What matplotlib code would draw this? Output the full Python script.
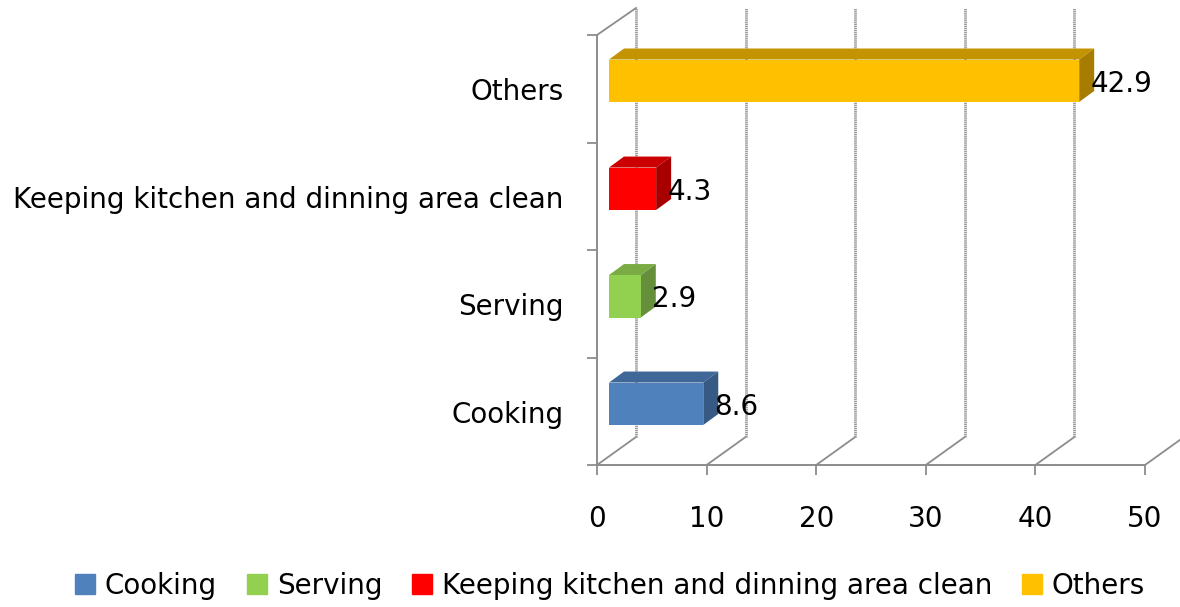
import matplotlib
matplotlib.use("Agg")
import matplotlib.pyplot as plt
from matplotlib.patches import Patch

categories = ["Cooking", "Serving", "Keeping kitchen and dinning area clean", "Others"]
values = [8.6, 2.9, 4.3, 42.9]
labels = ["8.6", "2.9", "4.3", "42.9"]
xticks = [0, 10, 20, 30, 40, 50]
front = ["#4F81BD", "#92D050", "#FF0000", "#FFC000"]
top = ["#3F6797", "#7AAB45", "#CC0000", "#C49400"]
side = ["#375A85", "#658F3A", "#A80000", "#A67D00"]

W, H = 1180, 607
plt.rcParams['font.family'] = ['DejaVu Sans']
FS = 20
fig = plt.figure(figsize=(W / 100, H / 100), dpi=100)
x0, x1, y_bot, y_top = 597, 1145, 465, 35
ax = fig.add_axes([x0 / W, 1 - y_bot / H, (x1 - x0) / W, (y_bot - y_top) / H])
ax.set_xlim(0, 50)
ax.set_ylim(0, 4)
ux = (x1 - x0) / 50   # pixels per x unit
uy = (y_bot - y_top) / 4

grey = "#8C8C8C"
wall_dx = 39 / ux
wall_dy = 28 / uy
wall_top = 4 + wall_dy - 1 / uy

# back wall
for t in xticks:
    ax.plot([t, t + wall_dx], [0, wall_dy], color=grey, lw=1.3, clip_on=False, zorder=1)
    ax.plot([t + wall_dx] * 2, [wall_dy, wall_top], color="#9A9A9A", lw=2.0,
            ls=(0, (0.5, 0.25)), clip_on=False, zorder=1)
ax.plot([0, wall_dx], [4, wall_top], color=grey, lw=1.3, clip_on=False, zorder=1)

# bars
bar_x = 12 / ux
bar_h = 0.395
bar_base = [0.372, 1.372, 2.372, 3.377]
dx = 15 / ux
dy = 11 / uy
for i, v in enumerate(values):
    b = bar_base[i]
    xe = bar_x + v
    ax.fill([bar_x, xe, xe, bar_x], [b, b, b + bar_h, b + bar_h], color=front[i], lw=0, zorder=4)
    ax.fill([bar_x, xe, xe + dx, bar_x + dx], [b + bar_h, b + bar_h, b + bar_h + dy, b + bar_h + dy],
            color=top[i], lw=0, zorder=3)
    ax.fill([xe, xe + dx, xe + dx, xe], [b, b + dy, b + bar_h + dy, b + bar_h],
            color=side[i], lw=0, zorder=3)
    ax.text(xe + 11 / ux, b + bar_h / 2 - 3 / uy, labels[i], fontsize=FS, color="black",
            ha="left", va="center", zorder=5)

for s in ["top", "right"]:
    ax.spines[s].set_visible(False)
for s in ["left", "bottom"]:
    ax.spines[s].set_color(grey)
    ax.spines[s].set_linewidth(1.4)

ax.set_xticks(xticks)
ax.set_xticklabels([str(t) for t in xticks], fontsize=FS)
ax.tick_params(axis="x", length=7, width=1.3, color=grey, pad=22)
ax.set_yticks(range(5))
ax.set_yticklabels([""] * 5)
ax.tick_params(axis="y", which="major", length=7.5, width=1.3, color=grey)
ax.set_yticks([0.495, 1.495, 2.495, 3.495], minor=True)
ax.set_yticklabels(categories, minor=True, fontsize=FS)
ax.tick_params(axis="y", which="minor", length=0, pad=24)

handles = [Patch(color=c) for c in front]
fig.legend(handles, categories, loc="center", bbox_to_anchor=(610 / W, 1 - 586 / H), ncol=4,
           frameon=False, fontsize=FS, handlelength=0.72, handleheight=0.72,
           handletextpad=0.36, columnspacing=1.07, borderpad=0)

fig.savefig("out.png", dpi=100)
